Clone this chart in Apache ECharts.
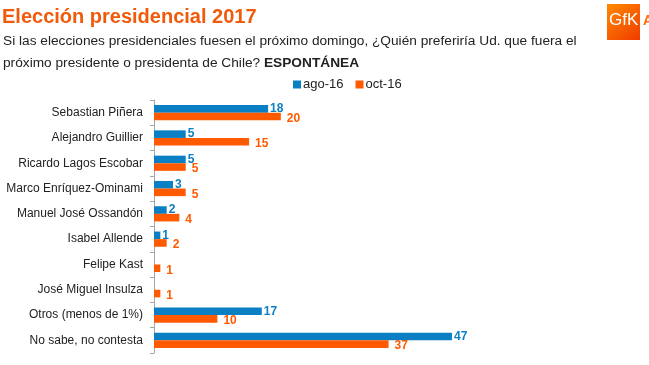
<!DOCTYPE html>
<html><head><meta charset="utf-8">
<script src="https://cdn.jsdelivr.net/npm/echarts@6/dist/echarts.min.js"></script>
<style>html,body{margin:0;padding:0;background:#fff}#c{width:649px;height:365px}</style>
</head><body><div id="c"></div>
<script>
const categories = ["Sebastian Piñera","Alejandro Guillier","Ricardo Lagos Escobar","Marco Enríquez-Ominami","Manuel José Ossandón","Isabel Allende","Felipe Kast","José Miguel Insulza","Otros (menos de 1%)","No sabe, no contesta"];
const ago16 = [18,5,5,3,2,1,null,null,17,47];
const oct16 = [20,15,5,5,4,2,1,1,10,37];
const seriesNames = ["ago-16","oct-16"];
const BLUE = "#0a7fc4", ORANGE = "#ff5a00";
const FONT = "Liberation Sans, Arial, sans-serif";
const chart = echarts.init(document.getElementById('c'));
chart.setOption({
  animation:false,
  textStyle:{fontFamily:FONT},
  title:[{
    text:"Elección presidencial 2017", left:2, top:7, padding:0,
    textStyle:{color:"#f05a0a",fontSize:20,fontWeight:"bold",fontFamily:FONT}
  },{
    text:"{n|Si las elecciones presidenciales fuesen el próximo domingo, ¿Quién preferiría Ud. que fuera el}\n{n|próximo presidente o presidenta de Chile? }{b|ESPONTÁNEA}",
    left:3, top:30, padding:0,
    textStyle:{fontWeight:"normal",rich:{n:{fontSize:13.7,color:"#222",fontWeight:"normal",fontFamily:FONT,lineHeight:22},b:{fontSize:13.7,color:"#222",fontWeight:"bold",fontFamily:FONT,lineHeight:22}}}
  }],
  legend:{data:seriesNames, left:288, top:73, itemWidth:8, itemHeight:8, itemGap:12, icon:"rect",
    textStyle:{fontSize:13,color:"#222",fontFamily:FONT,padding:[0,0,0,-3]}},
  grid:{left:154, top:100, width:317, bottom:12},
  xAxis:{type:"value", min:0, max:50, show:false},
  yAxis:{type:"category", data:categories, inverse:true,
    axisLine:{lineStyle:{color:"#a6a6a6"}},
    axisTick:{show:true, length:4, lineStyle:{color:"#a6a6a6"}},
    axisLabel:{fontSize:12, color:"#222", margin:11, fontFamily:FONT}},
  series:[{
    name:seriesNames[0], type:"bar", data:ago16, barGap:"0%", barCategoryGap:"40%",
    itemStyle:{color:BLUE},
    label:{show:true, position:"right", distance:2, color:BLUE, fontWeight:"bold", fontSize:12, fontFamily:FONT}
  },{
    name:seriesNames[1], type:"bar", data:oct16,
    itemStyle:{color:ORANGE},
    label:{show:true, position:"right", distance:6, offset:[0,2], color:ORANGE, fontWeight:"bold", fontSize:12, fontFamily:FONT}
  }],
  graphic:[{
    type:"rect", left:607, top:4, shape:{width:33, height:36},
    style:{fill:new echarts.graphic.LinearGradient(0,0,1,1,[{offset:0,color:"#ff8a00"},{offset:1,color:"#f03c00"}])}
  },{
    type:"text", left:609, top:12, style:{text:"GfK", fill:"#fff", font:"17px "+FONT}
  },{
    type:"text", left:643, top:14, style:{text:"A", fill:"#ff6a00", font:"bold 14px "+FONT}
  }]
});
</script></body></html>
